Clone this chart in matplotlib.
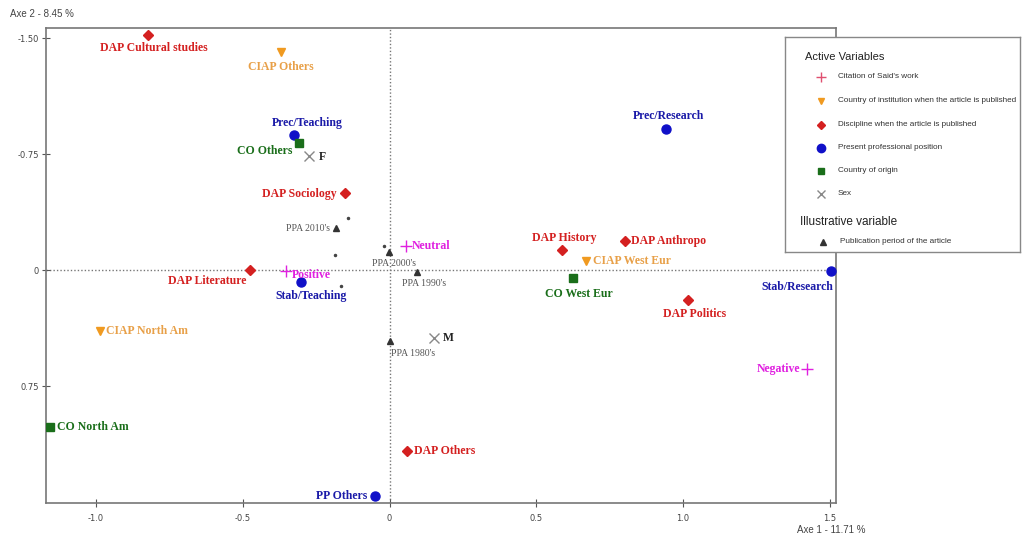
import matplotlib
matplotlib.use("Agg")
import matplotlib.pyplot as plt

# ---- data (Axe 1, Axe 2 coordinates) ----
dap_names = ["DAP Cultural studies", "DAP Sociology", "DAP Literature", "DAP History",
             "DAP Anthropo", "DAP Politics", "DAP Others"]
dap_x = [-0.821, -0.153, -0.474, 0.589, 0.801, 1.015, 0.061]
dap_y = [-1.519, -0.498, 0.000, -0.129, -0.188, 0.194, 1.170]

ciap_names = ["CIAP Others", "CIAP West Eur", "CIAP North Am"]
ciap_x = [-0.371, 0.668, -0.985]
ciap_y = [-1.409, -0.058, 0.394]

pp_names = ["Prec/Teaching", "Prec/Research", "Stab/Teaching", "Stab/Research", "PP Others"]
pp_x = [-0.324, 0.940, -0.300, 1.503, -0.051]
pp_y = [-0.873, -0.912, 0.078, 0.006, 1.461]

co_names = ["CO Others", "CO West Eur", "CO North Am"]
co_x = [-0.310, 0.624, -1.155]
co_y = [-0.821, 0.052, 1.015]

cit_names = ["Positive", "Neutral", "Negative"]
cit_x = [-0.354, 0.055, 1.421]
cit_y = [0.006, -0.155, 0.640]

sex_names = ["F", "M"]
sex_x = [-0.273, 0.153]
sex_y = [-0.737, 0.440]

ppa_names = ["PPA 2010's", "PPA 2000's", "PPA 1990's", "PPA 1980's"]
ppa_x = [-0.184, -0.003, 0.095, 0.003]
ppa_y = [-0.272, -0.116, 0.013, 0.459]

dot_x = [-0.140, -0.020, -0.187, -0.164]
dot_y = [-0.336, -0.155, -0.097, 0.103]

xticks = [-1.0, -0.5, 0, 0.5, 1.0, 1.5]
xtick_labels = ["-1.0", "-0.5", "0", "0.5", "1.0", "1.5"]
yticks = [-1.5, -0.75, 0, 0.75]
ytick_labels = ["-1.50", "-0.75", "0", "0.75"]

# label placement: (dx px, dy px, ha)
dap_lab = [(5, -13, "center"), (-8, -1, "right"), (-4, -11, "right"), (2, 12, "center"),
           (6, 0, "left"), (7, -14, "center"), (7, 0, "left")]
ciap_lab = [(0, -15, "center"), (7, 0, "left"), (6, 0, "left")]
pp_lab = [(13, 12, "center"), (3, 13, "center"), (10, -14, "center"), (3, -16, "right"),
          (-7, 0, "right")]
co_lab = [(-6, -8, "right"), (6, -16, "center"), (7, 0, "left")]
cit_lab = [(6, -4, "left"), (6, 0, "left"), (-6, 0, "right")]
sex_lab = [(9, -1, "left"), (8, 0, "left")]
ppa_lab = [(-6, 0, "right"), (5, -11, "center"), (7, -11, "center"), (1, -12, "left")]

RED = "#d42020"
ORANGE_M = "#f09a20"
ORANGE_T = "#e8a048"
BLUE_M = "#1010c8"
BLUE_T = "#1a1aa8"
GREEN = "#1a6e1a"
MAGENTA = "#e020e0"
GRAY = "#888888"

serif = ["Liberation Serif", "DejaVu Serif"]
sans = ["Liberation Sans", "DejaVu Sans"]

fig = plt.figure(figsize=(10.23, 5.39), dpi=100)
ax = fig.add_axes([0.045, 0.0668, 0.772, 0.881])

ax.set_xlim(-1.17, 1.52)
ax.set_ylim(1.506, -1.565)
ax.axhline(0, color="#777777", ls=(0, (1, 1.5)), lw=1, zorder=1)
ax.axvline(0, color="#777777", ls=(0, (1, 1.5)), lw=1, zorder=1)


def group(xs, ys, names, lab, marker, mcolor, tcolor, ms, size=8.5, weight="bold", mew=1.0):
    ax.plot(xs, ys, ls="none", marker=marker, color=mcolor, ms=ms, mew=mew, zorder=3)
    for x, y, n, (dx, dy, ha) in zip(xs, ys, names, lab):
        ax.annotate(n, (x, y), xytext=(dx, dy), textcoords="offset pixels",
                    ha=ha, va="center", color=tcolor, fontsize=size,
                    family=serif, weight=weight, zorder=4)


group(dap_x, dap_y, dap_names, dap_lab, "D", RED, RED, 5.5)
group(ciap_x, ciap_y, ciap_names, ciap_lab, "v", ORANGE_M, ORANGE_T, 6)
group(pp_x, pp_y, pp_names, pp_lab, "o", BLUE_M, BLUE_T, 6.5)
group(co_x, co_y, co_names, co_lab, "s", GREEN, GREEN, 5.5)
group(cit_x, cit_y, cit_names, cit_lab, "+", MAGENTA, MAGENTA, 9, mew=1.0)
group(sex_x, sex_y, sex_names, sex_lab, "x", GRAY, "#222222", 7, mew=1.0)
group(ppa_x, ppa_y, ppa_names, ppa_lab, "^", "#333333", "#555555", 4, size=7, weight="normal")
ax.plot(dot_x, dot_y, ls="none", marker="o", color="#444444", ms=1.5, zorder=3)

for s in ax.spines.values():
    s.set_color("#777777")
    s.set_linewidth(1.2)
ax.set_xticks(xticks)
ax.set_xticklabels(xtick_labels)
ax.set_yticks(yticks)
ax.set_yticklabels(ytick_labels)
ax.tick_params(direction="inout", length=6, width=0.8, color="#555555",
               labelsize=6, labelcolor="#444444")
ax.tick_params(axis="x", pad=5)
ax.tick_params(axis="y", pad=2)

fig.text(10 / 1023, 1 - 14 / 539, "Axe 2 - 8.45 %", fontsize=7, family=sans,
         color="#444444", va="center")
fig.text(797 / 1023, 1 - 530 / 539, "Axe 1 - 11.71 %", fontsize=7, family=sans,
         color="#444444", va="center")

# ---- legend box ----
lg = fig.add_axes([785 / 1023, 1 - 252 / 539, 235 / 1023, 215 / 539])
lg.set_xlim(785, 1020)
lg.set_ylim(252, 37)
lg.set_xticks([])
lg.set_yticks([])
for s in lg.spines.values():
    s.set_color("#888888")
    s.set_linewidth(1.0)

lg.text(805, 57, "Active Variables", fontsize=8, family=sans, va="center", color="#222222")
entries = [("+", "#e05070", 7, "Citation of Said's work"),
           ("v", ORANGE_M, 5, "Country of institution when the article is published"),
           ("D", RED, 4, "Discipline when the article is published"),
           ("o", BLUE_M, 6, "Present professional position"),
           ("s", GREEN, 4.5, "Country of origin"),
           ("x", GRAY, 6, "Sex")]
ey = [77, 101, 125, 148, 171, 194]
for (m, c, ms, t), y in zip(entries, ey):
    lg.plot([821], [y], marker=m, color=c, ms=ms, mew=1.0, ls="none")
    lg.text(838, y, t, fontsize=5.9, family=sans, va="center", color="#333333",
            clip_on=True)
lg.text(800, 222, "Illustrative variable", fontsize=8.5, family=sans, va="center", color="#222222")
lg.plot([823], [242], marker="^", color="#333333", ms=5, ls="none")
lg.text(840, 242, "Publication period of the article", fontsize=5.9, family=sans,
        va="center", color="#333333")

fig.savefig("out.png", dpi=100)
